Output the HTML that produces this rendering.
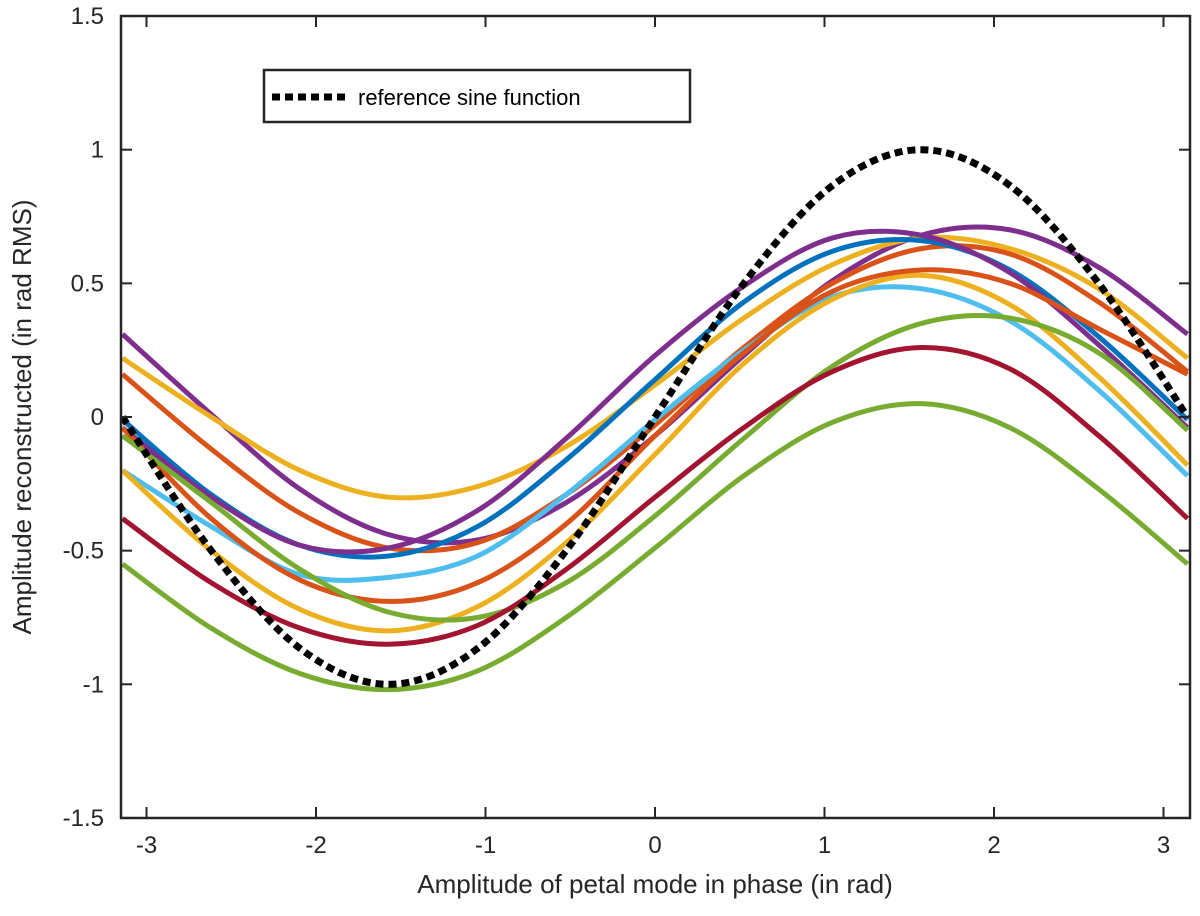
<!DOCTYPE html>
<html><head><meta charset="utf-8"><style>
body{margin:0;background:#fff}
svg{display:block;font-family:"Liberation Sans",sans-serif}
</style></head><body>
<svg id="chart" width="1200" height="916" viewBox="0 0 1200 916">
<g id="series"></g>
<rect x="121" y="16" width="1069" height="802" fill="none" stroke="#262626" stroke-width="2.5"/>
<g id="ticks"></g>
<text x="655" y="893" font-size="26" text-anchor="middle" fill="#262626">Amplitude of petal mode in phase (in rad)</text>
<text transform="translate(31,417) rotate(-90)" font-size="26" text-anchor="middle" fill="#262626">Amplitude reconstructed (in rad RMS)</text>
<g>
<rect x="264" y="70" width="426" height="52" fill="#fff" stroke="#262626" stroke-width="2.5"/>
<line x1="272" y1="97" x2="346" y2="97" stroke="#000" stroke-width="7" stroke-dasharray="8,5"/>
<text x="358" y="105" font-size="22" fill="#000">reference sine function</text>
</g>
</svg>
<script>
const xs=[-3.1416,-2.618,-2.094,-1.571,-1.047,-0.524,0,0.524,1.047,1.571,2.094,2.618,3.1416];
const purple1=[0.31,0.01,-0.27,-0.44,-0.46,-0.32,-0.07,0.23,0.51,0.68,0.70,0.56,0.31];
const yellow1=[0.22,0.00,-0.20,-0.30,-0.26,-0.11,0.12,0.37,0.57,0.67,0.63,0.48,0.22];
const orange1=[0.16,-0.12,-0.36,-0.49,-0.47,-0.29,-0.03,0.26,0.50,0.63,0.61,0.43,0.17];
const blue=[-0.01,-0.29,-0.48,-0.52,-0.41,-0.16,0.14,0.43,0.62,0.66,0.55,0.30,-0.01];
const purple2=[-0.04,-0.30,-0.48,-0.49,-0.35,-0.08,0.23,0.49,0.67,0.68,0.54,0.27,-0.04];
const lightblue=[-0.2,-0.41,-0.59,-0.60,-0.52,-0.29,-0.01,0.25,0.45,0.48,0.36,0.10,-0.22];
const yellow2=[-0.2,-0.5,-0.72,-0.80,-0.71,-0.47,-0.14,0.20,0.44,0.53,0.42,0.15,-0.18];
const orange2=[-0.04,-0.38,-0.61,-0.69,-0.62,-0.40,-0.07,0.24,0.47,0.55,0.50,0.33,0.16];
const green1=[-0.07,-0.32,-0.57,-0.73,-0.75,-0.62,-0.37,-0.08,0.19,0.35,0.37,0.24,-0.05];
const darkred=[-0.38,-0.62,-0.79,-0.85,-0.78,-0.57,-0.30,-0.04,0.17,0.26,0.18,-0.07,-0.38];
const green2=[-0.55,-0.79,-0.96,-1.02,-0.95,-0.75,-0.49,-0.22,-0.02,0.05,-0.04,-0.27,-0.55];
const sineRef=[0,-0.5,-0.866,-1,-0.866,-0.5,0,0.5,0.866,1,0.866,0.5,0];
const xTicks=[-3,-2,-1,0,1,2,3];
const yTicks=[-1.5,-1,-0.5,0,0.5,1,1.5];
const X=v=>655+v*169.5;
const Y=v=>417-v*267.3;
const NS="http://www.w3.org/2000/svg";
const g=document.getElementById('series');
const seriesList=[[purple1,'#7E2F8E','purple-1'],[yellow1,'#EDB120','yellow-1'],[orange1,'#D95319','orange-1'],[blue,'#0072BD','blue'],[purple2,'#7E2F8E','purple-2'],[lightblue,'#4DBEEE','light-blue'],[yellow2,'#EDB120','yellow-2'],[orange2,'#D95319','orange-2'],[green1,'#77AC30','green-1'],[darkred,'#A2142F','dark-red'],[green2,'#77AC30','green-2']];
function smoothPath(arr){
  const P=arr.map((v,i)=>[X(xs[i]),Y(v)]);
  let d='M'+P[0][0]+','+P[0][1];
  for(let i=0;i<P.length-1;i++){
    const p0=P[Math.max(0,i-1)],p1=P[i],p2=P[i+1],p3=P[Math.min(P.length-1,i+2)];
    const c1=[p1[0]+(p2[0]-p0[0])/6,p1[1]+(p2[1]-p0[1])/6];
    const c2=[p2[0]-(p3[0]-p1[0])/6,p2[1]-(p3[1]-p1[1])/6];
    d+=' C'+c1[0]+','+c1[1]+' '+c2[0]+','+c2[1]+' '+p2[0]+','+p2[1];
  }
  return d;
}
function line(arr,color,name,w,dash){
  const p=document.createElementNS(NS,'path');
  p.setAttribute('d',smoothPath(arr));
  p.setAttribute('fill','none');p.setAttribute('stroke',color);p.setAttribute('stroke-width',w);
  p.setAttribute('stroke-linejoin','round');
  if(dash)p.setAttribute('stroke-dasharray',dash);
  
  
  g.appendChild(p);
}
seriesList.forEach(s=>line(s[0],s[1],'series-'+s[2],5));
line(sineRef,'#000','reference-sine-line',7,'8,5');
const t=document.getElementById('ticks');
function add(tag,attrs,name,txt){
  const e=document.createElementNS(NS,tag);
  for(const k in attrs)e.setAttribute(k,attrs[k]);
  
  
  if(txt!==undefined)e.textContent=txt;
  t.appendChild(e);
}
xTicks.forEach(v=>{
  add('line',{x1:X(v),x2:X(v),y1:818,y2:807,stroke:'#262626','stroke-width':2},'x-tick');
  add('line',{x1:X(v),x2:X(v),y1:16,y2:27,stroke:'#262626','stroke-width':2},'x-tick-top');
  add('text',{x:X(v),y:853,'font-size':24,'text-anchor':'middle',fill:'#262626'},'x-tick-label',String(v));
});
yTicks.forEach(v=>{
  add('line',{x1:121,x2:132,y1:Y(v),y2:Y(v),stroke:'#262626','stroke-width':2},'y-tick');
  add('line',{x1:1190,x2:1179,y1:Y(v),y2:Y(v),stroke:'#262626','stroke-width':2},'y-tick-right');
  add('text',{x:104,y:Y(v)+8,'font-size':24,'text-anchor':'end',fill:'#262626'},'y-tick-label',String(v));
});
</script>
</body></html>
